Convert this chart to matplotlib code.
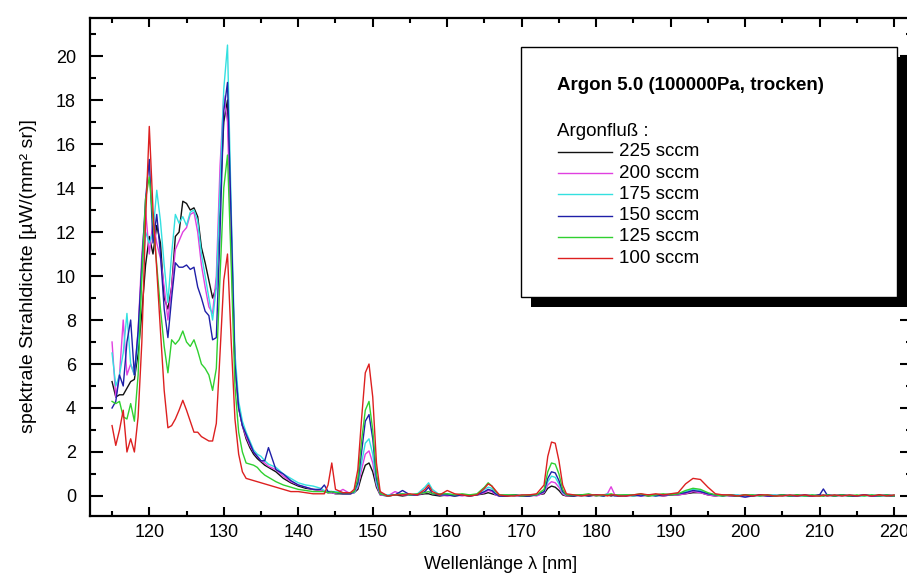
import matplotlib
matplotlib.use('Agg')
import matplotlib.pyplot as plt
from matplotlib.patches import Rectangle
from matplotlib.lines import Line2D
from matplotlib.ticker import MultipleLocator

plt.rcParams['font.family'] = ['Liberation Sans', 'DejaVu Sans']

# wavelength grid [nm], fine where the spectrum has structure
wl = [115.0, 115.5, 116.0, 116.5, 117.0, 117.5, 118.0, 118.5, 119.0, 119.5,
      120.0, 120.5, 121.0, 121.5, 122.0, 122.5, 123.0, 123.5, 124.0, 124.5,
      125.0, 125.5, 126.0, 126.5, 127.0, 127.5, 128.0, 128.5, 129.0, 129.5,
      130.0, 130.5, 131.0, 131.5, 132.0, 132.5, 133.0, 133.5, 134.0, 134.5,
      135.0, 135.5, 136.0,
      137, 138, 139, 140, 141, 142, 143, 143.5, 144, 144.5,
      145, 146, 147, 147.5, 148, 148.5, 149, 149.5, 150, 150.5,
      151, 152, 153, 154, 155, 156, 157, 157.5, 158, 159,
      160, 161, 162, 163, 164, 165, 165.5, 166, 166.5, 167,
      168, 169, 170, 171, 172, 173, 173.5, 174, 174.5, 175,
      175.5, 176, 177, 178, 179, 180, 181, 181.5, 182, 182.5,
      183,
      184, 185, 186, 187, 188, 189, 190, 191, 192, 193,
      194, 195, 196, 197, 198, 199, 200, 201, 202, 203,
      204, 205, 206, 207, 208, 209, 210, 210.5, 211, 212,
      213, 214, 215, 216, 217, 218, 219, 220]

flow_225 = [5.2, 4.5, 4.6, 4.6, 4.9, 5.2, 5.3, 6.5, 8.3, 10.5,
            11.8, 11.0, 12.3, 11.5, 9.0, 8.5, 9.5, 11.8, 12.0, 13.4,
            13.3, 13.0, 13.1, 12.7, 11.3, 10.6, 9.8, 9.0, 9.5, 13.5,
            17.0, 18.0, 12.0, 6.0, 4.0, 3.2, 2.6, 2.2, 1.9, 1.7,
            1.55, 1.4, 1.3,
            1.1, 0.8, 0.6, 0.45, 0.35, 0.3, 0.25, 0.2, 0.15, 0.15,
            0.1, 0.1, 0.1, 0.15, 0.3, 0.9, 1.4, 1.5, 1.1, 0.4,
            0.05, 0.0, 0.05, 0.0, 0.05, 0.05, 0.1, 0.1, 0.05, 0.0,
            0.05, 0.0, 0.05, 0.0, 0.05, 0.1, 0.15, 0.1, 0.05, 0.0,
            0.0, 0.05, 0.0, 0.0, 0.05, 0.1, 0.35, 0.45, 0.4, 0.25,
            0.05, 0.0, 0.0, 0.05, 0.0, 0.05, 0.0, 0.05, 0.0, 0.05,
            0.0,
            0.05, 0.0, 0.05, 0.0, 0.05, 0.0, 0.05, 0.05, 0.1, 0.15,
            0.15, 0.05, 0.0, 0.05, 0.0, 0.0, 0.05, 0.0, 0.05, 0.0,
            0.0, 0.05, 0.0, 0.05, 0.0, 0.0, 0.05, 0.0, 0.05, 0.0,
            0.05, 0.0, 0.0, 0.05, 0.0, 0.05, 0.0, 0.0]

flow_200 = [7.0, 4.5, 5.5, 8.0, 5.5, 6.0, 5.5, 7.5, 11.0, 13.0,
            11.0, 12.5, 11.5, 10.8, 9.5, 8.0, 9.5, 11.2, 11.6, 12.0,
            12.2, 12.8, 12.9, 12.0, 10.5, 9.5, 8.6, 8.3, 10.0, 15.0,
            18.2, 17.0, 11.0, 6.0, 4.0, 3.2, 2.7, 2.3, 2.0, 1.8,
            1.6, 1.5, 1.35,
            1.2, 0.9, 0.65, 0.5, 0.4, 0.3, 0.25, 0.2, 0.15, 0.15,
            0.1, 0.3, 0.1, 0.15, 0.4, 1.2, 1.9, 2.05, 1.5, 0.5,
            0.05, 0.0, 0.2, 0.05, 0.05, 0.05, 0.15, 0.2, 0.1, 0.05,
            0.0, 0.05, 0.0, 0.05, 0.05, 0.15, 0.25, 0.2, 0.05, 0.0,
            0.05, 0.0, 0.0, 0.05, 0.0, 0.15, 0.5, 0.65, 0.6, 0.4,
            0.1, 0.0, 0.05, 0.0, 0.05, 0.0, 0.05, 0.1, 0.42, 0.05,
            0.05,
            0.0, 0.05, 0.0, 0.05, 0.05, 0.0, 0.05, 0.05, 0.1, 0.2,
            0.15, 0.05, 0.0, 0.05, 0.0, 0.05, -0.05, 0.05, 0.0, 0.0,
            0.05, 0.0, 0.05, 0.0, 0.05, 0.0, 0.0, 0.05, 0.0, 0.05,
            0.0, 0.05, 0.0, 0.05, 0.0, 0.0, 0.05, 0.0]

flow_175 = [6.5, 5.0, 5.5, 6.5, 8.3, 6.0, 5.5, 7.0, 10.0, 12.0,
            11.5, 12.0, 13.9, 12.5, 10.5, 8.8, 11.0, 12.8, 12.4, 12.7,
            12.3, 12.9, 13.0, 12.5, 11.0, 10.0, 9.0, 8.0, 9.5, 14.0,
            18.5, 20.5, 13.0, 6.5, 4.3, 3.4, 2.9, 2.5, 2.1, 1.9,
            1.8, 1.6, 1.45,
            1.3, 1.0, 0.8, 0.6, 0.5, 0.45, 0.35, 0.25, 0.2, 0.2,
            0.2, 0.15, 0.15, 0.15, 0.5, 1.5, 2.4, 2.6, 1.9, 0.6,
            0.1, 0.05, 0.05, 0.1, 0.05, 0.1, 0.4, 0.6, 0.3, 0.05,
            0.1, 0.05, 0.05, 0.05, 0.05, 0.3, 0.4, 0.35, 0.1, 0.05,
            0.05, 0.0, 0.05, 0.05, 0.05, 0.2, 0.65, 0.9, 0.85, 0.55,
            0.15, 0.05, 0.05, 0.0, 0.05, 0.05, 0.0, 0.1, 0.05, 0.05,
            0.0,
            0.05, 0.0, 0.05, 0.05, 0.0, 0.05, 0.1, 0.1, 0.2, 0.3,
            0.25, 0.1, 0.05, 0.0, 0.05, 0.05, 0.0, 0.05, 0.0, 0.05,
            0.05, 0.0, 0.05, 0.0, 0.0, 0.05, 0.0, 0.05, 0.0, 0.05,
            0.0, 0.05, 0.0, 0.0, 0.05, 0.0, 0.0, 0.05]

flow_150 = [4.0, 4.3, 5.5, 5.0, 7.0, 8.0, 5.5, 7.5, 10.5, 13.5,
            15.3, 11.5, 12.8, 11.0, 8.5, 7.2, 9.0, 10.6, 10.4, 10.4,
            10.5, 10.3, 10.4, 9.5, 9.0, 8.4, 8.2, 7.1, 7.2, 12.0,
            17.5, 18.8, 12.5, 6.0, 4.0, 3.2, 2.8, 2.4, 2.0, 1.8,
            1.6, 1.6, 2.2,
            1.2, 1.0, 0.7, 0.5, 0.4, 0.3, 0.3, 0.5, 0.2, 0.2,
            0.15, 0.1, 0.1, 0.2, 0.6, 2.0, 3.4, 3.7, 2.6, 0.8,
            0.1, 0.0, 0.05, 0.25, 0.05, 0.05, 0.2, 0.4, 0.1, 0.05,
            0.05, 0.0, 0.05, 0.0, 0.05, 0.2, 0.3, 0.25, 0.1, 0.0,
            0.0, 0.05, 0.0, 0.0, 0.05, 0.2, 0.8, 1.1, 1.05, 0.7,
            0.2, 0.05, 0.0, 0.05, 0.0, 0.05, 0.0, 0.05, 0.05, 0.0,
            0.0,
            0.0, 0.05, 0.0, 0.05, 0.0, 0.05, 0.05, 0.1, 0.15, 0.25,
            0.2, 0.1, 0.05, 0.0, 0.05, 0.0, -0.05, 0.0, 0.05, 0.0,
            0.0, 0.05, 0.0, 0.0, 0.05, 0.0, 0.05, 0.32, 0.05, 0.0,
            0.05, 0.0, 0.0, 0.05, 0.0, 0.0, 0.05, 0.0]

flow_125 = [4.3, 4.2, 4.3, 3.6, 3.5, 4.2, 3.4, 5.5, 10.0, 13.5,
            14.5, 12.5, 10.5, 8.5, 6.8, 5.6, 7.1, 6.9, 7.1, 7.5,
            7.0, 6.8, 7.1, 6.6, 6.0, 5.8, 5.5, 4.8, 5.8, 10.0,
            14.0, 15.5, 10.5, 5.0, 2.9, 2.0, 1.5, 1.45, 1.4, 1.3,
            1.1, 0.95, 0.85,
            0.65, 0.5, 0.4, 0.3, 0.25, 0.2, 0.2, 0.2, 0.15, 0.2,
            0.15, 0.15, 0.15, 0.2, 0.8, 2.5, 3.9, 4.3, 3.0, 1.0,
            0.1, 0.0, 0.05, 0.1, 0.05, 0.1, 0.15, 0.2, 0.1, 0.1,
            0.1, 0.05, 0.1, 0.05, 0.1, 0.4, 0.6, 0.45, 0.2, 0.05,
            0.05, 0.05, 0.0, 0.05, 0.05, 0.3, 1.1, 1.5, 1.45, 1.0,
            0.3, 0.05, 0.05, 0.05, 0.1, 0.0, 0.05, 0.05, 0.1, 0.05,
            0.05,
            0.05, 0.05, 0.1, 0.0, 0.05, 0.1, 0.05, 0.1, 0.25, 0.35,
            0.3, 0.15, 0.05, 0.0, 0.05, 0.0, 0.05, 0.05, 0.0, 0.05,
            0.0, 0.05, 0.0, 0.05, 0.0, 0.05, 0.0, 0.0, 0.05, 0.0,
            0.05, 0.0, 0.05, 0.0, 0.05, 0.0, 0.05, 0.0]

flow_100 = [3.2, 2.3, 3.0, 3.9, 2.0, 2.6, 2.0, 3.6, 7.0, 12.5,
            16.8, 13.0, 10.3, 7.5, 4.8, 3.1, 3.2, 3.5, 3.9, 4.35,
            3.9, 3.4, 2.9, 2.9, 2.7, 2.6, 2.5, 2.5, 3.3, 6.5,
            9.8, 11.0, 7.0, 3.5, 1.9, 1.1, 0.8, 0.75, 0.7, 0.65,
            0.6, 0.55, 0.5,
            0.4, 0.3, 0.2, 0.2, 0.15, 0.1, 0.1, 0.1, 0.5, 1.5,
            0.3, 0.15, 0.15, 0.3, 1.2, 3.5, 5.6, 6.0, 4.5, 1.5,
            0.2, 0.0, 0.05, 0.05, 0.1, 0.05, 0.3, 0.5, 0.2, 0.05,
            0.25, 0.1, 0.05, 0.0, 0.05, 0.35, 0.55, 0.45, 0.25, 0.05,
            0.0, 0.0, 0.05, 0.05, 0.1, 0.5, 1.8, 2.45, 2.4, 1.6,
            0.5, 0.1, 0.05, 0.0, 0.05, 0.05, 0.05, 0.0, 0.05, 0.05,
            0.0,
            0.0, 0.05, 0.1, 0.05, 0.1, 0.05, 0.1, 0.15, 0.55, 0.8,
            0.75, 0.4, 0.1, 0.05, 0.05, 0.0, 0.05, 0.0, 0.05, 0.05,
            0.0, 0.0, 0.05, 0.0, 0.05, 0.0, 0.0, 0.05, 0.0, 0.05,
            0.0, 0.05, 0.0, 0.05, 0.0, 0.05, 0.0, 0.05]

labels = ["225 sccm", "200 sccm", "175 sccm", "150 sccm", "125 sccm", "100 sccm"]
colors = ["#111111", "#e040e0", "#33e0e0", "#1f1fa8", "#30d030", "#dd2020"]
series = [flow_225, flow_200, flow_175, flow_150, flow_125, flow_100]

W, H = 907, 576


def px(x, y):
    # pixel position (from top left) -> figure fraction
    return x / W, 1 - y / H


fig = plt.figure(figsize=(W / 100, H / 100), dpi=100)
ax = fig.add_axes([90 / W, 1 - 516 / H, (912 - 90) / W, (516 - 18) / H])

for vals, col in zip(series, colors):
    ax.plot(wl, vals, color=col, lw=1.0)

ax.set_xlim(112.04, 222.4)
ax.set_ylim(-0.91, 21.73)
ax.xaxis.set_major_locator(MultipleLocator(10))
ax.xaxis.set_minor_locator(MultipleLocator(5))
ax.yaxis.set_major_locator(MultipleLocator(2))
ax.yaxis.set_minor_locator(MultipleLocator(1))
ax.tick_params(which='both', direction='in', top=True, right=True,
               width=1.5, labelsize=13)
ax.tick_params(axis='x', which='major', length=6.5, pad=6)
ax.tick_params(axis='x', which='minor', length=3.5)
ax.tick_params(axis='y', which='major', length=9, pad=10)
ax.tick_params(axis='y', which='minor', length=4.5)
for sp in ax.spines.values():
    sp.set_linewidth(1.6)

ax.set_xlabel("Wellenlänge λ [nm]", fontsize=13)
ax.xaxis.set_label_coords(0.499, -0.081)
ax.set_ylabel("spektrale Strahldichte [µW/(mm² sr)]", fontsize=14)
ax.yaxis.set_label_coords(-0.064, 0.482)

# legend box with drop shadow
x0, y0 = px(531, 307)
x1, y1 = px(907, 57)
fig.add_artist(Rectangle((x0, y0), x1 - x0, y1 - y0, transform=fig.transFigure,
                         facecolor='black', edgecolor='none', zorder=3))
x0, y0 = px(521, 297)
x1, y1 = px(897, 47)
fig.add_artist(Rectangle((x0, y0), x1 - x0, y1 - y0, transform=fig.transFigure,
                         facecolor='white', edgecolor='black', lw=1.0, zorder=4))

tx, ty = px(557, 86)
fig.text(tx, ty, "Argon 5.0 (100000Pa, trocken)", fontsize=13.5,
         fontweight='bold', va='center', ha='left', zorder=5)
tx, ty = px(557, 131)
fig.text(tx, ty, "Argonfluß :", fontsize=13.5, va='center', ha='left', zorder=5)
for i, (lab, col) in enumerate(zip(labels, colors)):
    yy = 152 + i * 21.2
    lx0, ly = px(558, yy)
    lx1, _ = px(612, yy)
    fig.add_artist(Line2D([lx0, lx1], [ly, ly], transform=fig.transFigure,
                          color=col, lw=1.0, zorder=5))
    tx, _ = px(619, yy)
    fig.text(tx, ly, lab, fontsize=13.5, va='center', ha='left', zorder=5)

fig.savefig("out.png", dpi=100)
